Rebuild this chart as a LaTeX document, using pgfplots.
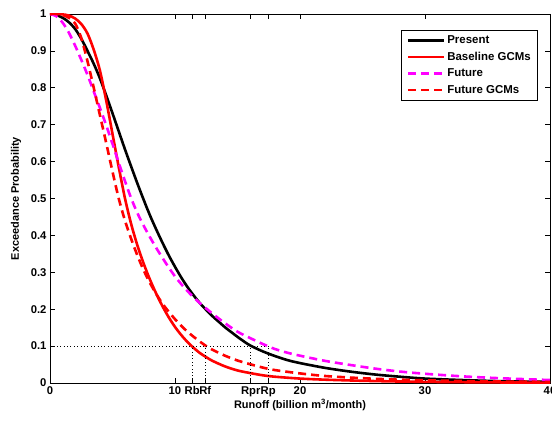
\documentclass[border=0pt]{standalone}
\usepackage{fontspec}
\setmainfont{Liberation Sans}
\usepackage{pgfplots}
\pgfplotsset{compat=1.18}
\definecolor{mag}{RGB}{255,0,255}
\newcommand{\lf}{\fontsize{11}{13}\selectfont\bfseries}
\newcommand{\tf}{\fontsize{11.3}{13}\selectfont\bfseries}
\newcommand{\lgf}{\fontsize{11.5}{13}\selectfont\bfseries}
\begin{document}
\begin{tikzpicture}
\begin{axis}[
  scale only axis, width=500bp, height=369bp,
  xmin=0, xmax=40, ymin=0, ymax=1,
  xtick={0,10,11.38,12.42,16.06,17.46,20,30,40},
  xticklabels={0,10,Rb,Rf,Rpr,Rp,20,30,40},
  ytick={0,0.1,0.2,0.3,0.4,0.5,0.6,0.7,0.8,0.9,1},
  yticklabels={0,0.1,0.2,0.3,0.4,0.5,0.6,0.7,0.8,0.9,1},
  tick align=inside, major tick length=5bp,
  every tick/.style={black, line width=0.6bp},
  axis line style={line width=0.9bp},
  ticklabel style={font=\tf},
  label style={font=\lf},
  xlabel={Runoff (billion m\textsuperscript{3}/month)},
  ylabel={Exceedance Probability},
  xlabel style={at={(axis description cs:0.5,-0.06)}, anchor=center},
  ylabel style={at={(axis description cs:-0.068,0.5)}, anchor=center, rotate=0},
  legend style={at={(rel axis cs:0.976,0.957)}, anchor=north east, draw=black, line width=0.6bp, font=\lgf, cells={anchor=west}, inner xsep=5bp, inner ysep=3.5bp, row sep=3bp},
  legend image code/.code={\draw[#1] (0bp,0bp) -- (36bp,0bp);},
]
\addplot[black, line width=2.6bp, smooth] coordinates {
(0,1) (0.5,0.997) (1,0.99) (1.5,0.978) (2,0.96) (2.5,0.933) (3,0.9) (3.5,0.865) (4,0.825) (4.5,0.779) (5,0.731) (5.5,0.682) (6,0.633) (6.5,0.586) (7,0.54) (7.5,0.496) (8,0.454) (8.5,0.416) (9,0.38) (9.5,0.346) (10,0.315) (10.5,0.286) (11,0.26) (11.5,0.237) (12,0.216) (12.5,0.198) (13,0.181) (13.5,0.166) (14,0.151) (14.5,0.138) (15,0.125) (15.5,0.113) (16,0.102) (17,0.086) (18,0.073) (19,0.062) (20,0.054) (22,0.041) (24,0.031) (26,0.023) (28,0.017) (30,0.012) (33,0.008) (36,0.005) (40,0.003)};
\addlegendentry{Present}
\addplot[red, line width=2.6bp, smooth] coordinates {
(0,1) (0.5,1) (1,0.999) (1.5,0.996) (2,0.988) (2.5,0.973) (3,0.947) (3.5,0.903) (4,0.846) (4.5,0.765) (5,0.675) (5.5,0.585) (6,0.5) (6.5,0.43) (7,0.372) (7.5,0.323) (8,0.28) (8.5,0.242) (9,0.208) (9.5,0.178) (10,0.152) (10.5,0.13) (11,0.111) (11.5,0.095) (12,0.081) (12.5,0.07) (13,0.06) (14,0.045) (15,0.034) (16,0.027) (17,0.021) (18,0.017) (20,0.012) (22,0.009) (25,0.006) (28,0.004) (32,0.0025) (36,0.0015) (40,0.001)};
\addlegendentry{Baseline GCMs}
\addplot[mag, line width=2.6bp, dash pattern=on 8bp off 5bp, smooth] coordinates {
(0,1) (0.5,0.994) (1,0.977) (1.5,0.95) (2,0.915) (2.5,0.876) (3,0.835) (3.5,0.79) (4,0.745) (4.5,0.698) (5,0.648) (5.5,0.597) (6,0.547) (6.5,0.5) (7,0.46) (7.5,0.426) (8,0.395) (8.5,0.366) (9,0.339) (9.5,0.313) (10,0.289) (10.5,0.268) (11,0.249) (11.5,0.232) (12,0.216) (13,0.188) (14,0.162) (15,0.139) (16,0.122) (17,0.106) (17.5,0.099) (18,0.092) (19,0.082) (20,0.074) (22,0.06) (24,0.049) (26,0.039) (28,0.031) (30,0.025) (33,0.018) (36,0.013) (40,0.008)};
\addlegendentry{Future}
\addplot[red, line width=2.6bp, dash pattern=on 8bp off 5bp, smooth] coordinates {
(0,1) (0.5,1) (1,0.997) (1.5,0.99) (2,0.975) (2.5,0.935) (3,0.872) (3.5,0.8) (4,0.725) (4.5,0.65) (5,0.573) (5.5,0.5) (6,0.44) (6.5,0.39) (7,0.345) (7.5,0.305) (8,0.271) (8.5,0.241) (9,0.215) (9.5,0.193) (10,0.173) (10.5,0.155) (11,0.139) (11.5,0.125) (12,0.112) (12.5,0.1) (13,0.09) (14,0.074) (15,0.061) (16,0.051) (17,0.042) (18,0.035) (20,0.026) (22,0.019) (25,0.013) (28,0.009) (32,0.006) (36,0.004) (40,0.003)};
\addlegendentry{Future GCMs}
\addplot[black, line width=0.8bp, dash pattern=on 0.8bp off 2.6bp, forget plot] coordinates {(0,0.1) (17.46,0.1)};
\addplot[black, line width=0.8bp, dash pattern=on 0.8bp off 2.6bp, forget plot] coordinates {(11.38,0) (11.38,0.1)};
\addplot[black, line width=0.8bp, dash pattern=on 0.8bp off 2.6bp, forget plot] coordinates {(12.42,0) (12.42,0.1)};
\addplot[black, line width=0.8bp, dash pattern=on 0.8bp off 2.6bp, forget plot] coordinates {(16.06,0) (16.06,0.1)};
\addplot[black, line width=0.8bp, dash pattern=on 0.8bp off 2.6bp, forget plot] coordinates {(17.46,0) (17.46,0.1)};
\end{axis}
\pgfresetboundingbox
\path[use as bounding box] (-50bp,-38bp) rectangle (502bp,383bp);
\end{tikzpicture}
\end{document}
